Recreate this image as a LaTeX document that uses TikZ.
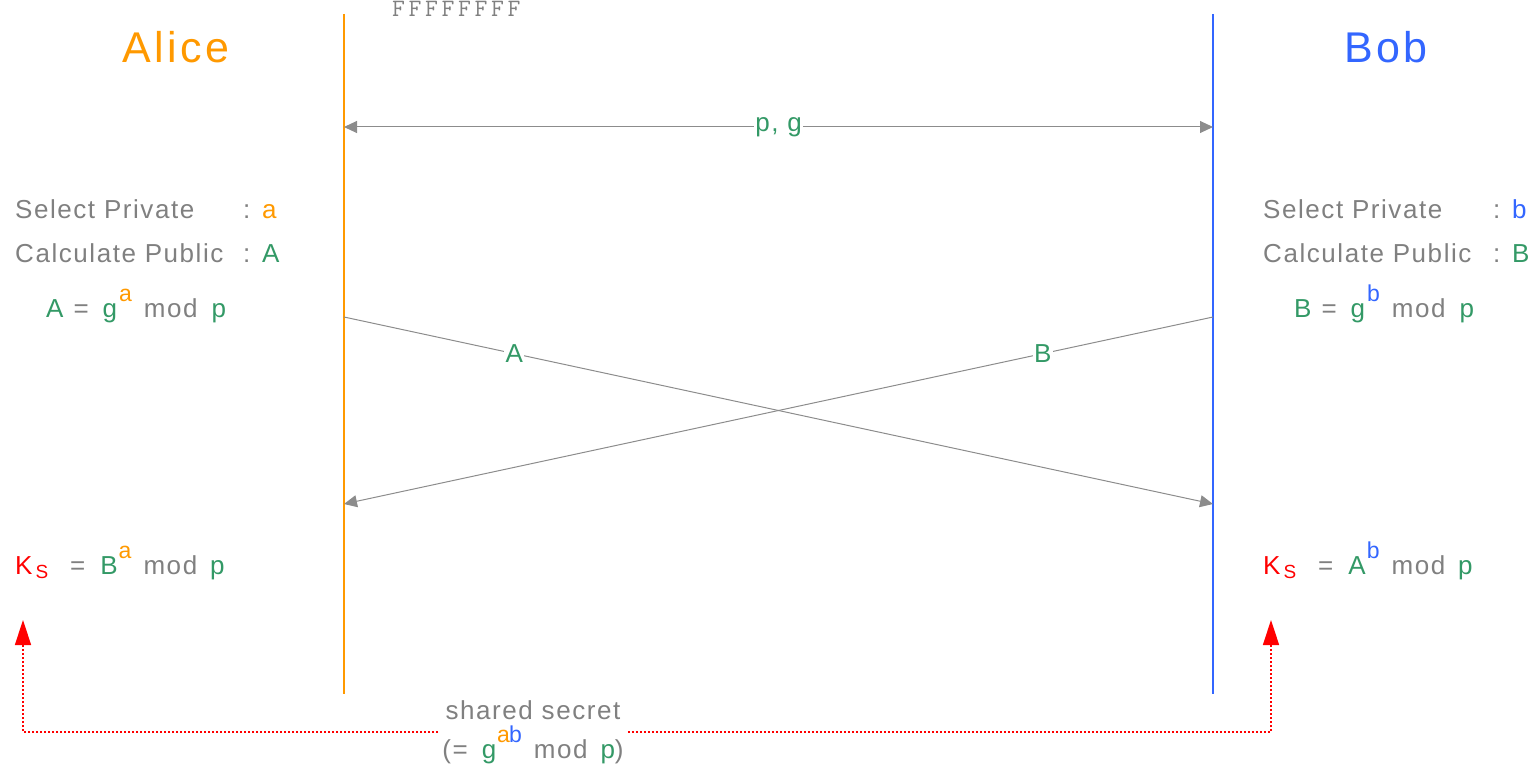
\documentclass[tikz,border=0pt]{standalone}
\usepackage{fontspec}
\setmainfont{Liberation Sans}
\newfontfamily\bodyfont[LetterSpace=6]{Liberation Sans}
\newfontfamily\titlefont[LetterSpace=8]{Liberation Sans}
\usetikzlibrary{arrows.meta}
\definecolor{cOr}{HTML}{FF9900}
\definecolor{cBl}{HTML}{3366FF}
\definecolor{cGr}{HTML}{339966}
\definecolor{cGy}{HTML}{808080}
\definecolor{cLn}{HTML}{8C8C8C}
\definecolor{cRd}{HTML}{FF0000}
\newcommand\gr[1]{\textcolor{cGr}{#1}}
\newcommand\sups[2]{\smash{\raisebox{16pt}{\color{#1}\fontsize{23}{23}\selectfont #2}}}
\newcommand\subS{\kern3pt\raisebox{-4pt}{\fontsize{19}{19}\selectfont S}}
% A = g^x mod p
\newcommand\pubeq[3]{\gr{#1}\hspace{10pt}=\hspace{14pt}\gr{g}\kern2pt\sups{#2}{#3}\hspace{12pt}mod\hspace{14pt}\gr{p}}
% K_S = Y^x mod p
\newcommand\keyeq[3]{\textcolor{cRd}{K\subS}\hspace{22pt}=\hspace{15pt}\gr{#1}\kern1pt\sups{#2}{#3}\hspace{12pt}mod\hspace{13pt}\gr{p}}
\begin{document}
\begin{tikzpicture}[x=1pt,y=-1pt,
  txt/.style={anchor=base west, inner sep=0pt, font=\bodyfont\fontsize{26}{28}\selectfont, text=cGy},
  title/.style={anchor=base, inner sep=0pt, font=\titlefont\fontsize{43}{43}\selectfont},
  life/.style={line width=2pt},
  msg/.style={draw=cLn, line width=1pt},
  lbl/.style={fill=white, inner sep=1.5pt, text=cGr, font=\bodyfont\fontsize{26}{28}\selectfont},
  secret/.style={draw=cRd, line width=1.5pt, dash pattern=on 2pt off 2pt, -{Triangle[length=25pt,width=16pt]}}]
\useasboundingbox (0,0) rectangle (1540,778);

% titles
\node[title, text=cOr] (alice) at (176,63) {Alice};
\node[title, text=cBl] (bob) at (1386,63) {Bob};
\node[anchor=base west, inner sep=0pt, text=cGy, font=\ttfamily\fontsize{25}{25}\selectfont] (hex) at (392,17)
  {F\kern3.6pt F\kern3.6pt F\kern3.6pt F\kern3.6pt F\kern3.6pt F\kern3.6pt F\kern3.6pt F};

% lifelines
\coordinate (aT) at (344,14); \coordinate (aB) at (344,694);
\coordinate (bT) at (1213,14); \coordinate (bB) at (1213,694);
\draw[life, cOr] (aT) -- (aB);
\draw[life, cBl] (bT) -- (bB);

% p, g
\coordinate (pgA) at (344,127); \coordinate (pgB) at (1213,127);
\draw[msg, {Triangle[length=13pt,width=12pt]}-{Triangle[length=13pt,width=12pt]}] (pgA) -- node[lbl] (pg) {p, g} (pgB);

% crossing messages
\coordinate (sA) at (344,317); \coordinate (eA) at (1213,504);
\coordinate (sB) at (1213,317); \coordinate (eB) at (344,504);
\draw[msg, -{Triangle[length=13pt,width=12pt]}] (sA) -- node[lbl, pos=0.196] (mA) {A} (eA);
\draw[msg, -{Triangle[length=13pt,width=12pt]}] (sB) -- node[lbl, pos=0.196] (mB) {B} (eB);

% Alice texts
\node[txt] (selA) at (15,219) {Select Private};
\node[txt] (selAc) at (243,219) {: \textcolor{cOr}{a}};
\node[txt] (calA) at (15,262) {Calculate Public};
\node[txt] (calAc) at (243,262) {: \gr{A}};
\node[txt] (eqA) at (46,317) {\pubeq{A}{cOr}{a}};
\node[txt] (ksA) at (15,574) {\keyeq{B}{cOr}{a}};

% Bob texts
\node[txt] (selB) at (1263,219) {Select Private};
\node[txt] (selBc) at (1493,219) {: \textcolor{cBl}{b}};
\node[txt] (calB) at (1263,262) {Calculate Public};
\node[txt] (calBc) at (1493,262) {: \gr{B}};
\node[txt] (eqB) at (1294,317) {\pubeq{B}{cBl}{b}};
\node[txt] (ksB) at (1263,574) {\keyeq{A}{cBl}{b}};

% shared secret
\coordinate (kA) at (23,620);
\coordinate (kB) at (1271,620);
\node[fill=white, inner sep=4pt, align=center, text=cGy, font=\bodyfont\fontsize{26}{25}\selectfont] (ss) at (533,732)
  {shared secret\\[14pt](=\hspace{14pt}\gr{g}\kern1pt\sups{cOr}{a}\kern-1pt\sups{cBl}{b}\hspace{12pt}mod\hspace{13pt}\gr{p})};
\draw[secret] (ss.west |- 0,732) -| (kA);
\draw[secret] (ss.east |- 0,732) -| (kB);
\end{tikzpicture}
\end{document}
